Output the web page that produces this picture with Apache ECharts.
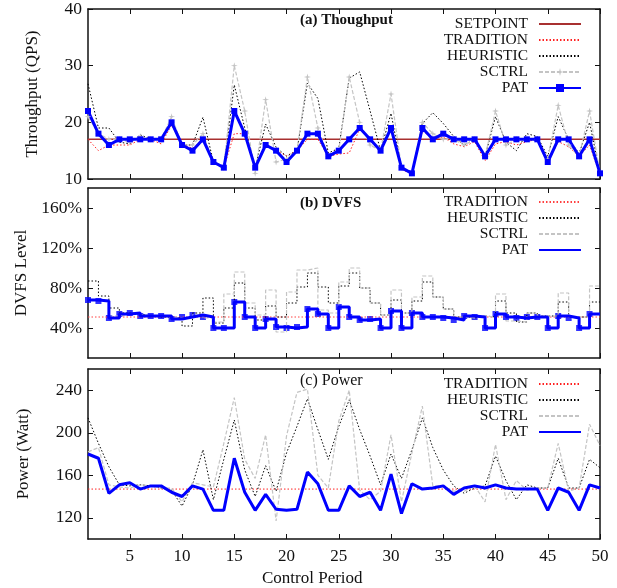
<!DOCTYPE html>
<html>
<head>
<meta charset="utf-8">
<script src="https://cdn.jsdelivr.net/npm/echarts@6/dist/echarts.min.js"></script>
<style>
  html, body { margin: 0; padding: 0; background: #fff; }
  #chart { width: 617px; height: 588px; }
</style>
</head>
<body>
<div id="chart"></div>
<script>
// control periods on the x axis
const periods = [1, 2, 3, 4, 5, 6, 7, 8, 9, 10, 11, 12, 13, 14, 15, 16, 17, 18, 19, 20,
  21, 22, 23, 24, 25, 26, 27, 28, 29, 30, 31, 32, 33, 34, 35, 36, 37, 38, 39, 40,
  41, 42, 43, 44, 45, 46, 47, 48, 49, 50]
const xTicks = [5, 10, 15, 20, 25, 30, 35, 40, 45, 50]

// (a) throughput, QPS
const tputSetpoint = 17
const tputTradition = [17, 15, 16, 16, 16, 17, 17, 16.2, 19.5, 16.2, 15.4, 17, 13.2, 12, 18, 18, 12.4, 16, 15, 14.1,
  15, 17, 17, 14, 14.4, 14.6, 18.8, 17, 15, 19, 11.7, 10.9, 18.5, 17.1, 17.4, 16.2, 15.7, 16.6, 13.2, 16.2,
  16.6, 16, 16.6, 17, 12.8, 16.6, 15.7, 14, 16, 10.7]
const tputHeuristic = [26.8, 19, 19, 16.5, 16.2, 17.8, 17, 17, 20, 16, 16, 20.9, 13, 12, 26.6, 19, 12, 19.7, 15.6, 14,
  15, 26.9, 24.2, 14.6, 15.4, 27.8, 28.9, 22, 15, 21.6, 12, 11, 19.8, 21.7, 19.8, 17.5, 16, 17, 14, 21,
  16.5, 15, 18, 17.5, 14, 21, 17, 14.5, 20, 11]
const tputSctrl = [21, 18, 17, 17, 16.5, 17.5, 17, 17, 21, 16, 16, 18, 13, 12, 30, 22, 11, 24, 13, 13.5,
  15, 28, 19, 14, 15, 28, 20, 16, 15, 25, 12, 11, 20, 18, 17, 17, 16, 17, 14, 22,
  16, 17, 17, 17, 13.5, 23, 16, 14, 22, 11]
const tputPat = [22, 18, 16, 17, 17, 17, 17, 17, 20, 16, 15, 17, 13, 12, 22, 18, 12, 16, 15, 13,
  15, 18, 18, 14, 15, 17, 19, 17, 15, 19, 12, 11, 19, 17, 18, 17, 17, 17, 14, 17,
  17, 17, 17, 17, 13, 17, 17, 14, 17, 11]
const tputTicks = [10, 20, 30, 40]

// (b) DVFS level, %
const dvfsTradition = 51
const dvfsHeuristic = [87, 72, 60, 55, 54, 52, 51, 51, 50, 42, 55, 70, 45, 60, 85, 60, 48, 62, 51, 65,
  81, 95, 81, 65, 82, 95, 80, 65, 53, 68, 55, 67, 86, 71, 59, 51, 50, 52, 51, 67,
  55, 46, 55, 52, 52, 66, 51, 51, 66, 66]
const dvfsSctrl = [68, 67, 52, 54, 54, 52, 52, 51, 50, 50, 53, 50, 46, 74, 96, 65, 53, 78, 36, 76,
  98, 100, 58, 55, 86, 100, 80, 65, 53, 78, 55, 71, 92, 71, 59, 51, 50, 52, 51, 74,
  47, 46, 55, 52, 52, 75, 51, 51, 82, 82]
const dvfsPat = [68, 67, 50, 54, 55, 52, 52, 52, 49, 51, 53, 51, 40, 40, 66, 51, 40, 49, 41, 40,
  41, 59, 54, 40, 61, 51, 48, 49, 40, 57, 40, 55, 51, 51, 50, 48, 52, 51, 40, 54,
  51, 50, 51, 51, 40, 52, 50, 40, 54, 54]
const dvfsTicks = [40, 80, 120, 160]

// (c) power, Watt
const powerTradition = 147
const powerHeuristic = [214, 190, 168, 151, 150, 151, 150, 148, 146, 131, 151, 184, 137, 175, 212, 165, 140, 169, 145, 181,
  206, 232, 203, 175, 206, 231, 203, 178, 151, 180, 157, 184, 214, 186, 165, 150, 143, 148, 150, 178,
  155, 137, 151, 148, 148, 176, 148, 148, 175, 167]
const powerSctrl = [182, 186, 151, 149, 148, 151, 150, 148, 148, 135, 153, 151, 149, 190, 233, 175, 157, 198, 117, 197,
  238, 241, 160, 148, 211, 240, 146, 137, 145, 198, 135, 181, 225, 150, 150, 145, 145, 150, 135, 189,
  137, 155, 146, 148, 148, 190, 145, 148, 208, 188]
const powerPat = [180, 176, 143, 151, 153, 147, 150, 150, 144, 140, 150, 147, 127, 127, 176, 144, 127, 142, 128, 127,
  128, 163, 152, 127, 127, 150, 140, 144, 127, 161, 124, 152, 147, 148, 150, 142, 148, 150, 148, 151,
  148, 147, 147, 147, 127, 148, 144, 127, 151, 148]
const powerTicks = [120, 160, 200, 240]

const serif = 'Liberation Serif'
const ink = '#111'
const star = 'path://M0,-10L2,-2L10,0L2,2L0,10L-2,2L-10,0L-2,-2Z'

const xy = vals => periods.map((p, i) => [p, vals[i]])
const flat = v => [[periods[0], v], [periods[periods.length - 1], v]]

function xAxes (g, labels) {
  const base = {
    type: 'value', gridIndex: g, min: 1, max: 50,
    axisLine: { show: true, onZero: false, lineStyle: { color: ink, width: 1.5 } },
    axisTick: { show: true, inside: true, length: 5, customValues: xTicks, lineStyle: { color: ink } },
    splitLine: { show: false }
  }
  return [
    { ...base, position: 'bottom',
      axisLabel: { show: labels, customValues: xTicks, margin: 9, fontFamily: serif, fontSize: 17, color: ink } },
    { ...base, position: 'top', axisLabel: { show: false } }
  ]
}

function yAxes (g, min, max, ticks, name, gap, fmt) {
  const base = {
    type: 'value', gridIndex: g, min, max,
    axisLine: { show: true, onZero: false, lineStyle: { color: ink, width: 1.5 } },
    axisTick: { show: true, inside: true, length: 5, customValues: ticks, lineStyle: { color: ink } },
    splitLine: { show: false }
  }
  return [
    { ...base, position: 'left', name, nameLocation: 'middle', nameGap: gap,
      nameTextStyle: { fontFamily: serif, fontSize: 17, color: ink },
      axisLabel: { customValues: ticks, margin: 6, fontFamily: serif, fontSize: 17.5, color: ink, formatter: fmt } },
    { ...base, position: 'right', axisLabel: { show: false } }
  ]
}

function line (name, g, data, color, width, type, extra) {
  return Object.assign({
    name, type: 'line', xAxisIndex: 2 * g, yAxisIndex: 2 * g, data,
    symbol: 'none', lineStyle: { color, width, type }, itemStyle: { color }
  }, extra || {})
}

// names ending in '*' keep their marker in the legend sample
function legend (g, top, names) {
  return {
    orient: 'vertical', right: 30, top, align: 'right',
    itemWidth: 42, itemHeight: 10, itemGap: 0,
    textStyle: { fontFamily: serif, fontSize: 15.5, color: ink, lineHeight: 16, padding: [0, 6, 0, 0] },
    formatter: n => n.split(':')[1],
    data: names.map(n => n.endsWith('*')
      ? { name: g + ':' + n.slice(0, -1) }
      : { name: g + ':' + n, itemStyle: { opacity: 0 } })
  }
}

const dotted = [1.5, 2]
const dashed = [4, 2]

const titleStyle = (size, weight) => ({ fontFamily: serif, fontSize: size, fontWeight: weight, color: ink })

const options = {
  animation: false,
  backgroundColor: '#fff',
  title: [
    { text: '(a) Thoughput', left: 300, top: 13, padding: 0, textStyle: titleStyle(15, 'bold') },
    { text: '(b) DVFS', left: 300, top: 196, padding: 0, textStyle: titleStyle(15, 'bold') },
    { text: '(c) Power', left: 300, top: 373, padding: 0, textStyle: titleStyle(16, 'normal') },
    { text: 'Control Period', left: 262, top: 570, padding: 0, textStyle: titleStyle(17, 'normal') }
  ],
  grid: [
    { left: 88, right: 17, top: 9, height: 170 },
    { left: 88, right: 17, top: 188, height: 170 },
    { left: 88, right: 17, top: 369, height: 170 }
  ],
  xAxis: [...xAxes(0, false), ...xAxes(1, false), ...xAxes(2, true)],
  yAxis: [
    ...yAxes(0, 10, 40, tputTicks, 'Throughput (QPS)', 47),
    ...yAxes(1, 10, 180, dvfsTicks, 'DVFS Level', 57, v => v + '%'),
    ...yAxes(2, 100, 260, powerTicks, 'Power (Watt)', 56)
  ],
  legend: [
    legend('a', 11, ['SETPOINT', 'TRADITION', 'HEURISTIC', 'SCTRL*', 'PAT*']),
    legend('b', 189, ['TRADITION', 'HEURISTIC', 'SCTRL', 'PAT']),
    legend('c', 371, ['TRADITION', 'HEURISTIC', 'SCTRL', 'PAT'])
  ],
  series: [
    // (a) throughput
    line('a:SETPOINT', 0, flat(tputSetpoint), '#a83030', 1.5, 'solid'),
    line('a:TRADITION', 0, xy(tputTradition), '#ff2020', 1, dotted),
    line('a:HEURISTIC', 0, xy(tputHeuristic), '#000', 1, dotted),
    line('a:SCTRL', 0, xy(tputSctrl), '#c4c4c4', 1.2, dashed, { symbol: star, symbolSize: 7 }),
    line('a:PAT', 0, xy(tputPat), '#0000ff', 3, 'solid', { symbol: 'rect', symbolSize: 6 }),
    // (b) DVFS
    line('b:TRADITION', 1, flat(dvfsTradition), '#ff4040', 1, dotted),
    line('b:HEURISTIC', 1, xy(dvfsHeuristic), '#000', 1, dotted, { step: 'end' }),
    line('b:SCTRL', 1, xy(dvfsSctrl), '#c4c4c4', 1.2, dashed, { step: 'end' }),
    line('b:PAT', 1, xy(dvfsPat), '#0000ff', 3, 'solid', { step: 'end' }),
    {
      name: 'b:PATmarks', type: 'scatter', xAxisIndex: 2, yAxisIndex: 2,
      data: xy(dvfsPat).slice(0, -1), symbol: 'rect', symbolSize: 6, itemStyle: { color: '#0000ff' }
    },
    // (c) power
    line('c:TRADITION', 2, flat(powerTradition), '#ff2020', 1, dotted),
    line('c:HEURISTIC', 2, xy(powerHeuristic), '#000', 1, dotted),
    line('c:SCTRL', 2, xy(powerSctrl), '#c4c4c4', 1.2, dashed),
    line('c:PAT', 2, xy(powerPat), '#0000ff', 3, 'solid')
  ]
}

const myChart = echarts.init(document.getElementById('chart'))
myChart.setOption(options)
</script>
</body>
</html>
